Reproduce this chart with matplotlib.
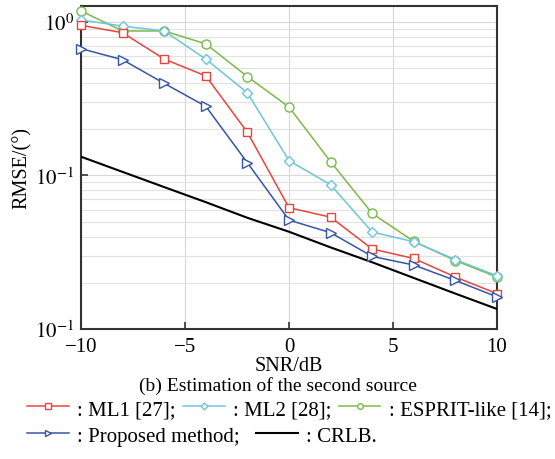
import matplotlib
matplotlib.use("Agg")
import matplotlib.pyplot as plt
from matplotlib.lines import Line2D
from matplotlib.ticker import FixedLocator, FixedFormatter, LogLocator, NullFormatter

# --- data ---
snr = [-10, -8, -6, -4, -2, 0, 2, 4, 6, 8, 10]
ml1 = [0.951, 0.851, 0.573, 0.445, 0.191, 0.0617, 0.0535, 0.0332, 0.0288, 0.0218, 0.0170]
ml2 = [1.03, 0.94, 0.873, 0.573, 0.345, 0.125, 0.087, 0.0428, 0.0370, 0.0283, 0.0222]
esprit = [1.18, 0.873, 0.873, 0.72, 0.44, 0.279, 0.123, 0.0566, 0.0372, 0.0279, 0.0218]
proposed = [0.67, 0.567, 0.398, 0.282, 0.121, 0.0512, 0.0424, 0.0297, 0.0261, 0.0207, 0.0162]
crlb = [0.1325, 0.1055, 0.084, 0.067, 0.053, 0.043, 0.034, 0.0272, 0.0215, 0.017, 0.0135]

xticks = [-10, -5, 0, 5, 10]
xticklabels = ['\u221210', '\u22125', '0', '5', '10']
yticks = [0.01, 0.1, 1.0]
yticklabels = ['$10^{-1}$', '$10^{-1}$', '$10^{0}$']

c_red = '#e8453c'; c_cyan = '#6cc6d8'; c_green = '#7cb84a'; c_blue = '#3556a8'

plt.rcParams['font.family'] = ['Liberation Serif', 'DejaVu Serif']
plt.rcParams['mathtext.fontset'] = 'stix'

fig = plt.figure(figsize=(5.55, 4.6), dpi=100)
ax = fig.add_axes([81/555, 1-330/460, (497-81)/555, (330-7)/460])

kw = dict(lw=1.1, mfc='white', mew=1.0, clip_on=False)
ax.plot(snr, crlb, color='black', lw=1.5, zorder=3)
ax.plot(snr, esprit, color=c_green, marker='o', ms=6.5, zorder=4, **kw)
ax.plot(snr, ml2, color=c_cyan, marker='D', ms=5, zorder=5, **kw)
ax.plot(snr, ml1, color=c_red, marker='s', ms=5.5, zorder=6, **kw)
ax.plot(snr, proposed, color=c_blue, marker='>', ms=6.5, zorder=7, **kw)

ax.set_yscale('log')
ax.set_xlim(-10, 10); ax.set_ylim(0.01, 1.27)
ax.xaxis.set_major_locator(FixedLocator(xticks))
ax.xaxis.set_major_formatter(FixedFormatter(xticklabels))
ax.yaxis.set_major_locator(FixedLocator(yticks))
ax.yaxis.set_major_formatter(FixedFormatter(yticklabels))
ax.yaxis.set_minor_locator(LogLocator(base=10, subs=range(2, 10)))
ax.yaxis.set_minor_formatter(NullFormatter())
ax.tick_params(which='both', direction='in', labelsize=15, length=5, width=1.2, color='#333333')
ax.tick_params(which='minor', length=0)
ax.tick_params(axis='x', pad=6)
ax.tick_params(axis='y', pad=5)
ax.grid(True, which='major', color='#d8d8d8', lw=0.8)
ax.grid(True, which='minor', axis='y', color='#e2e2e2', lw=0.8)
for s in ax.spines.values():
    s.set_linewidth(1.5); s.set_color('#333333')

ax.set_xlabel('SNR/dB', fontsize=14.5, labelpad=0)
ax.set_ylabel('RMSE/(\u00b0)', fontsize=14.5, labelpad=2)
fig.text(0.5, 1-386/460, '(b) Estimation of the second source', ha='center', va='center', fontsize=14)

def h(color, marker, ms):
    return Line2D([], [], color=color, marker=marker, ms=ms, mfc='white', mew=1.0, lw=1.1)

row1 = [h(c_red, 's', 4), h(c_cyan, 'D', 3.5), h(c_green, 'o', 4)]
row2 = [h(c_blue, '>', 5), Line2D([], [], color='black', lw=1.5)]
lkw = dict(loc='center left', frameon=False, fontsize=15, handlelength=2.0, handletextpad=0.4,
           borderaxespad=0, borderpad=0)
fig.legend(row1, [': ML1 [27];', ': ML2 [28];', ': ESPRIT-like [14];'], ncol=3, columnspacing=0.35,
           bbox_to_anchor=(27/555, 1-410/460), **lkw)
fig.legend(row2, [': Proposed method;', ': CRLB.'], ncol=2, columnspacing=0.8,
           bbox_to_anchor=(27/555, 1-437/460), **lkw)

fig.savefig('out.png', dpi=100)
